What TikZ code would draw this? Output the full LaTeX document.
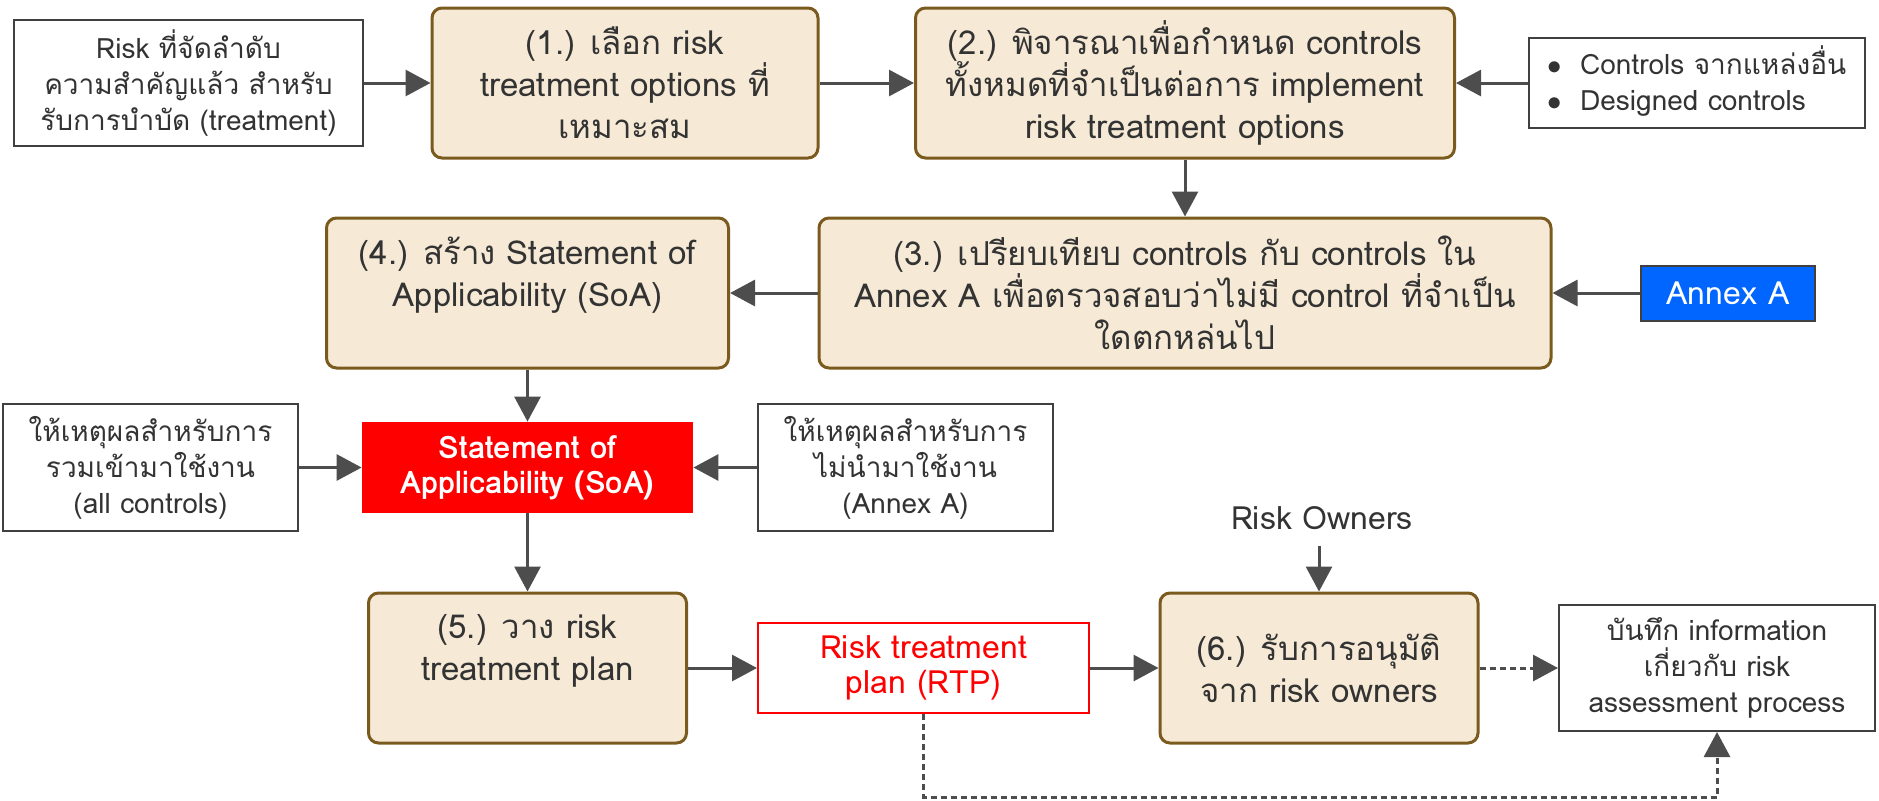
\documentclass[tikz,border=0pt]{standalone}
\usepackage{fontspec}
\setmainfont[Script=Thai]{Loma}
\usetikzlibrary{arrows.meta}

\definecolor{boxfill}{HTML}{F6EAD6}
\definecolor{boxbrown}{HTML}{7B5A1E}
\definecolor{txtgray}{HTML}{333333}
\definecolor{arrgray}{HTML}{4D4D4D}
\definecolor{sidegray}{HTML}{404040}
\definecolor{soared}{HTML}{FF0000}
\definecolor{annexblue}{HTML}{0066FF}

\newcommand\stepfont{\fontsize{16.5}{21}\selectfont}
\newcommand\sidefont{\fontsize{14}{18}\selectfont}

\begin{document}
\begin{tikzpicture}[x=0.5pt, y=-0.5pt,
		stepbox/.style={draw=boxbrown, fill=boxfill, line width=1.5pt, rounded corners=5pt,
			align=center, font=\stepfont, text=txtgray, inner sep=0pt},
		sidebox/.style={draw=sidegray, fill=white, line width=1pt,
			align=center, font=\sidefont, text=txtgray, inner sep=0pt},
		arr/.style={-{Triangle[length=12.5pt,width=13pt]}, line width=1.5pt, draw=arrgray},
		dasharr/.style={arr, line width=1.5pt, dash pattern=on 3pt off 2pt}]
		\useasboundingbox (0,0) rectangle (1879,800);

		% Top row
		\node[sidebox, minimum width=174.5pt, minimum height=63pt] (rank) at (188.5, 83)
			{Risk ที่จัดลำดับ\\ความสำคัญแล้ว สำหรับ\\รับการบำบัด (treatment)};
		\node[stepbox, minimum width=193pt, minimum height=75pt] (select) at (625, 83)
			{(1.) เลือก risk\\treatment options ที่\\เหมาะสม};
		\node[stepbox, minimum width=269.5pt, minimum height=75pt] (determine) at (1185, 83)
			{(2.) พิจารณาเพื่อกำหนด controls\\ทั้งหมดที่จำเป็นต่อการ implement\\risk treatment options};
		\node[sidebox, minimum width=168pt, minimum height=45pt] (sources) at (1697, 83)
			{\begin{tabular}{@{}l@{\hspace{9pt}}l@{}}
				$\bullet$ & Controls จากแหล่งอื่น\\[0pt]
				$\bullet$ & Designed controls
			\end{tabular}};

		% Second row
		\node[stepbox, minimum width=201pt, minimum height=75pt] (build) at (527.5, 293)
			{(4.) สร้าง Statement of\\Applicability (SoA)\\~};
		\node[stepbox, minimum width=366pt, minimum height=75pt] (compare) at (1185, 293)
			{(3.) เปรียบเทียบ controls กับ controls ใน\\Annex A เพื่อตรวจสอบว่าไม่มี control ที่จำเป็น\\ใดตกหล่นไป};
		\node[draw=sidegray, fill=annexblue, line width=1pt, text=white, font=\fontsize{16}{18}\selectfont,
			minimum width=87pt, minimum height=27.5pt, inner sep=0pt] (annex) at (1728, 293) {Annex A};

		% SoA row
		\node[sidebox, minimum width=147.5pt, minimum height=63.5pt] (incl) at (150.5, 467.5)
			{ให้เหตุผลสำหรับการ\\รวมเข้ามาใช้งาน\\(all controls)};
		\node[fill=soared, text=white, align=center, font=\fontsize{15.5}{17.5}\selectfont\bfseries,
			minimum width=165.5pt, minimum height=45.5pt, inner sep=0pt] (soa) at (527.5, 467.5)
			{Statement of\\Applicability (SoA)};
		\node[sidebox, minimum width=147.5pt, minimum height=63.5pt] (excl) at (905.5, 467.5)
			{ให้เหตุผลสำหรับการ\\ไม่นำมาใช้งาน\\(Annex A)};

		% Bottom row
		\node[font=\fontsize{16}{18}\selectfont, text=txtgray, inner sep=8pt] (owners) at (1322, 518) {Risk Owners};
		\node[stepbox, minimum width=159pt, minimum height=75pt] (plan) at (527.5, 668)
			{(5.) วาง risk\\treatment plan\\~};
		\node[draw=soared, fill=white, line width=1pt, text=soared, align=center,
			font=\fontsize{16}{17.5}\selectfont, minimum width=165.5pt, minimum height=45pt,
			inner sep=0pt] (rtp) at (923.5, 668) {Risk treatment\\plan (RTP)};
		\node[stepbox, minimum width=159pt, minimum height=75pt] (approve) at (1319, 668)
			{(6.) รับการอนุมัติ\\จาก risk owners};
		\node[sidebox, minimum width=158pt, minimum height=63pt] (record) at (1717, 668)
			{บันทึก information\\เกี่ยวกับ risk\\assessment process};

		% Connectors
		\draw[arr] (rank) -- (select);
		\draw[arr] (select) -- (determine);
		\draw[arr] (sources) -- (determine);
		\draw[arr] (determine) -- (compare);
		\draw[arr] (annex) -- (compare);
		\draw[arr] (compare) -- (build);
		\draw[arr] (build) -- (soa);
		\draw[arr] (incl) -- (soa);
		\draw[arr] (excl) -- (soa);
		\draw[arr] (soa) -- (plan);
		\draw[arr] (plan) -- (rtp);
		\draw[arr] (rtp) -- (approve);
		\draw[arr] (owners.south -| approve.north) -- (approve.north);
		\draw[dasharr] (approve) -- (record);
		\draw[dasharr] (rtp.south) -- ++(0,83) -| (record.south);

	\end{tikzpicture}
\end{document}
